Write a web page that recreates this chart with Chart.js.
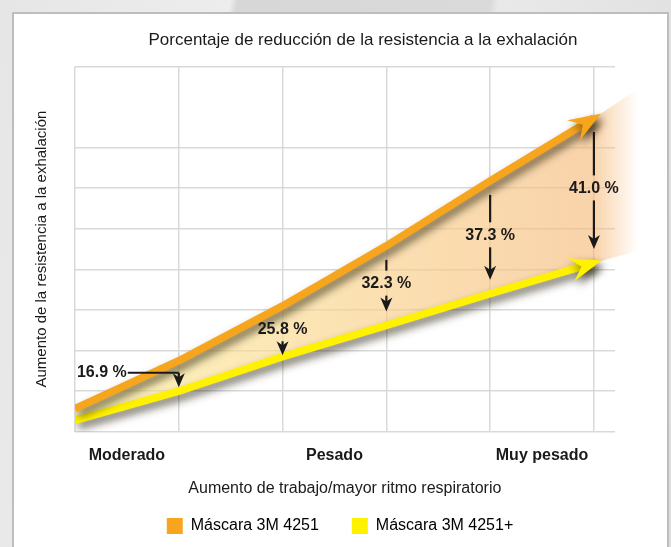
<!DOCTYPE html>
<html>
<head>
<meta charset="utf-8">
<script src="https://cdn.jsdelivr.net/npm/chart.js@4.4.0/dist/chart.umd.min.js"></script>
<style>
  html, body { margin: 0; padding: 0; }
  body {
    width: 671px; height: 547px; overflow: hidden; position: relative;
    background: linear-gradient(100deg, #e6e6e6 0%, #ededed 30%, #d7d7d7 31%, #dadada 64%, #e9e9e9 65%, #dedede 100%);
  }
  .panel {
    position: absolute; left: 12px; top: 12px; width: 653px; height: 560px;
    background: #fff; border: 2px solid #bdbdbd;
  }
  #chart { position: absolute; left: 0; top: 0; }
</style>
</head>
<body>
<div class="panel"></div>
<canvas id="chart" width="671" height="547"></canvas>
<script>
const chartTitle = 'Porcentaje de reducción de la resistencia a la exhalación';
const yTitle = 'Aumento de la resistencia a la exhalación';
const xTitle = 'Aumento de trabajo/mayor ritmo respiratorio';
const workLevels = ['Moderado', 'Pesado', 'Muy pesado'];
const workLevelAt = [0.5, 2.5, 4.5];
const steps = [0, 1, 2, 3, 4, 5];
const mask4251 = [0.57, 1.75, 3.1, 4.58, 6.18, 7.73];
const mask4251plus = [0.28, 1.0, 1.85, 2.62, 3.4, 4.16];
const reduction = [null, 16.9, 25.8, 32.3, 37.3, 41.0];
// the shaded band runs on a bit past the last step and fades out
const bandEnd = { x: 5.43, top: 8.45, bottom: 4.46 };
const gridEnd = 5.2;

const orange = '#f7a51c';
const yellow = '#fff200';
const ink = '#1a1a1a';
const gridGray = '#d9d9d9';
const font = '"Liberation Sans", Arial, sans-serif';

let toPoints = (ys) => steps.map((x, i) => ({ x: x, y: ys[i] }));

let bandFill = (c) => {
    const chart = c.chart;
    if (!chart.chartArea) return 'rgba(250,215,170,0.6)';
    const xs = chart.scales.x;
    const x0 = xs.getPixelForValue(0);
    const x1 = xs.getPixelForValue(bandEnd.x);
    const last = (xs.getPixelForValue(steps[steps.length - 1]) - x0) / (x1 - x0);
    const g = chart.ctx.createLinearGradient(x0, 0, x1, 0);
    g.addColorStop(0, 'rgba(252,236,145,0.62)');
    g.addColorStop(last * 0.45, 'rgba(250,214,140,0.65)');
    g.addColorStop(last, 'rgba(246,187,124,0.65)');
    g.addColorStop(1, 'rgba(246,187,124,0)');
    return g;
};

let yGrid = (c) => {
    if (c.tick && c.tick.value === 8) return 'rgba(0,0,0,0)';
    const chart = c.chart;
    const area = chart.chartArea;
    if (!area) return gridGray;
    const stop = (chart.scales.x.getPixelForValue(gridEnd) - area.left) / (area.right - area.left);
    const g = chart.ctx.createLinearGradient(area.left, 0, area.right, 0);
    g.addColorStop(0, gridGray);
    g.addColorStop(stop, gridGray);
    g.addColorStop(Math.min(1, stop + 0.001), 'rgba(217,217,217,0)');
    g.addColorStop(1, 'rgba(217,217,217,0)');
    return g;
};

let head = (ctx, x, y, angle, len, half, notch) => {
    ctx.save();
    ctx.translate(x, y);
    ctx.rotate(angle);
    ctx.beginPath();
    ctx.moveTo(0, 0);
    ctx.lineTo(-len, -half);
    ctx.lineTo(-notch, 0);
    ctx.lineTo(-len, half);
    ctx.closePath();
    ctx.fill();
    ctx.restore();
};

const lineShadow = {
    id: 'lineShadow',
    beforeDatasetDraw(chart, args) {
        if (args.index > 1) return;
        const ctx = chart.ctx;
        ctx.save();
        ctx.shadowColor = 'rgba(30,25,0,0.65)';
        ctx.shadowBlur = 9;
        ctx.shadowOffsetX = 3;
        ctx.shadowOffsetY = 5;
    },
    afterDatasetDraw(chart, args) {
        if (args.index > 1) return;
        const ctx = chart.ctx;
        const pts = args.meta.data;
        const a = pts[pts.length - 2], b = pts[pts.length - 1];
        const ang = Math.atan2(b.y - a.y, b.x - a.x);
        ctx.fillStyle = chart.data.datasets[args.index].borderColor;
        head(ctx, b.x + 8 * Math.cos(ang), b.y + 8 * Math.sin(ang), ang, 32, 12, 21);
        ctx.restore();
    }
};

const reductionArrows = {
    id: 'reductionArrows',
    afterDatasetsDraw(chart) {
        const ctx = chart.ctx;
        const xs = chart.scales.x, ys = chart.scales.y;
        ctx.save();
        ctx.strokeStyle = ink;
        ctx.fillStyle = ink;
        ctx.lineWidth = 2.2;
        ctx.font = 'bold 16px ' + font;
        ctx.textBaseline = 'middle';
        reduction.forEach((r, i) => {
            if (r == null) return;
            const x = xs.getPixelForValue(steps[i]);
            const top = ys.getPixelForValue(mask4251[i]);
            const bottom = ys.getPixelForValue(mask4251plus[i]);
            const text = r.toFixed(1) + ' %';
            let from, tip;
            if (bottom - top < 40) {
                // too tight between the lines: label sits left with a leader
                const ty = top + 12;
                ctx.textAlign = 'right';
                ctx.fillText(text, x - 52, ty);
                ctx.beginPath();
                ctx.moveTo(x - 51, ty);
                ctx.lineTo(x, ty);
                ctx.stroke();
                from = ty;
                tip = bottom - 4;
            } else {
                const ty = (top + bottom) / 2 - 2;
                ctx.textAlign = 'center';
                ctx.fillText(text, x, ty);
                if (ty - 13 > top + 16) {
                    ctx.beginPath();
                    ctx.moveTo(x, top + 14);
                    ctx.lineTo(x, ty - 13);
                    ctx.stroke();
                }
                from = ty + 12;
                tip = bottom - Math.max(1, Math.min(14, bottom - from - 14));
            }
            if (tip - 8 > from) {
                ctx.beginPath();
                ctx.moveTo(x, from);
                ctx.lineTo(x, tip - 8);
                ctx.stroke();
            }
            head(ctx, x, tip, Math.PI / 2, 14, 6, 10);
        });
        ctx.restore();
    }
};

const xCaption = {
    id: 'xCaption',
    afterDraw(chart) {
        const ctx = chart.ctx;
        const xs = chart.scales.x;
        const cx = (xs.getPixelForValue(0) + xs.getPixelForValue(gridEnd)) / 2;
        ctx.save();
        ctx.fillStyle = ink;
        ctx.font = '16px ' + font;
        ctx.textAlign = 'center';
        ctx.textBaseline = 'middle';
        ctx.fillText(xTitle, cx, chart.chartArea.bottom + 57);
        ctx.restore();
    }
};

let ctx = document.getElementById('chart').getContext('2d');
let chart = new Chart(ctx, {
    type: 'line',
    data: {
        datasets: [{
            label: 'Máscara 3M 4251',
            data: toPoints(mask4251),
            borderColor: orange,
            backgroundColor: orange,
            borderWidth: 7.5,
            pointRadius: 0,
            tension: 0,
            fill: false
        }, {
            label: 'Máscara 3M 4251+',
            data: toPoints(mask4251plus),
            borderColor: yellow,
            backgroundColor: yellow,
            borderWidth: 7.5,
            pointRadius: 0,
            tension: 0,
            fill: false
        }, {
            label: 'band top',
            data: toPoints(mask4251).concat([{ x: bandEnd.x, y: bandEnd.top }]),
            borderColor: 'rgba(0,0,0,0)',
            backgroundColor: bandFill,
            borderWidth: 0,
            pointRadius: 0,
            tension: 0,
            fill: '+1'
        }, {
            label: 'band bottom',
            data: toPoints(mask4251plus).concat([{ x: bandEnd.x, y: bandEnd.bottom }]),
            borderColor: 'rgba(0,0,0,0)',
            borderWidth: 0,
            pointRadius: 0,
            tension: 0,
            fill: false
        }]
    },
    options: {
        responsive: false,
        animation: false,
        events: [],
        layout: { padding: { top: 10, left: 29, right: 20, bottom: 3 } },
        scales: {
            x: {
                type: 'linear',
                min: 0,
                max: 5.55,
                border: { display: false },
                grid: {
                    drawTicks: false,
                    lineWidth: 1.5,
                    color: (c) => (c.tick && Number.isInteger(c.tick.value) && c.tick.value <= 5) ? gridGray : 'rgba(0,0,0,0)'
                },
                ticks: {
                    stepSize: 0.5,
                    autoSkip: false,
                    maxRotation: 0,
                    padding: 14,
                    color: ink,
                    font: { family: font, size: 16, weight: 'bold' },
                    callback: (v) => {
                        const k = workLevelAt.findIndex(p => Math.abs(p - v) < 1e-6);
                        return k < 0 ? '' : workLevels[k];
                    }
                },
                afterFit: (s) => { s.height += 6; }
            },
            y: {
                min: 0,
                max: 9,
                border: { display: false },
                grid: { drawTicks: false, lineWidth: 1.5, color: yGrid },
                ticks: { display: false, stepSize: 1 },
                title: {
                    display: true,
                    text: yTitle,
                    color: ink,
                    font: { family: font, size: 15 },
                    padding: { top: 4, bottom: 24 }
                }
            }
        },
        plugins: {
            tooltip: { enabled: false },
            title: {
                display: true,
                text: chartTitle,
                fullSize: false,
                color: ink,
                font: { family: font, size: 17, weight: 'normal' },
                padding: { top: 20, bottom: 16 }
            },
            legend: {
                position: 'bottom',
                labels: {
                    boxWidth: 16,
                    boxHeight: 16,
                    padding: 33,
                    color: ink,
                    font: { family: font, size: 16 },
                    generateLabels: (chart) => chart.data.datasets.slice(0, 2).map((d, i) => ({
                        text: d.label,
                        fillStyle: d.borderColor,
                        strokeStyle: d.borderColor,
                        lineWidth: 0,
                        hidden: false,
                        datasetIndex: i
                    }))
                }
            }
        }
    },
    plugins: [lineShadow, reductionArrows, xCaption]
});
</script>
</body>
</html>
